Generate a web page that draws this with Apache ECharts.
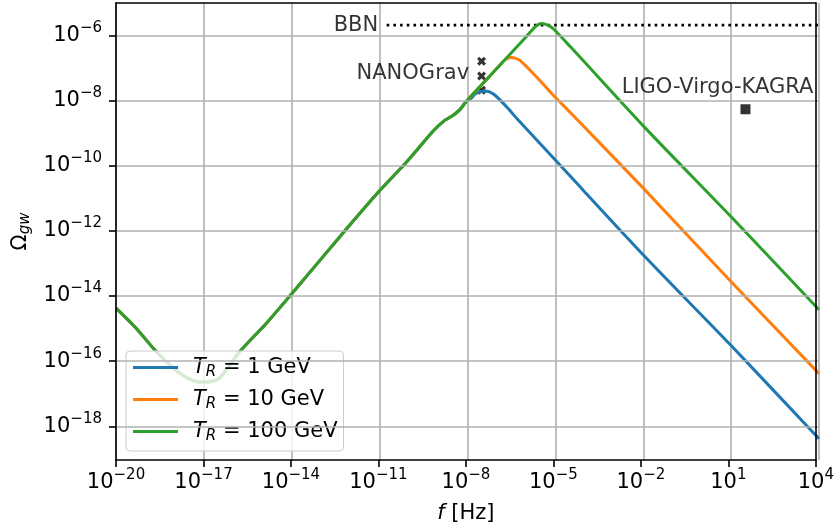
<!DOCTYPE html>
<html><head><meta charset="utf-8">
<script src="https://cdn.jsdelivr.net/npm/echarts@6/dist/echarts.min.js"></script>
<style>html,body{margin:0;padding:0;background:#fff}#c{width:837px;height:529px}</style>
</head><body><div id="c"></div>
<script>
const FONT = 'DejaVu Sans';
// All values are log10: x = log10(f / Hz), y = log10(Omega_gw)
const commonLogF     = [-20, -19.32, -18.63, -17.95, -17.55, -17.16, -16.80, -16.47, -15.79, -14.88, -14.00, -12.12, -11.04, -10.08, -9.17, -8.82, -8.50, -8.26, -8.03];
const commonLogOmega = [-14.37, -14.98, -15.70, -16.28, -16.52, -16.64, -16.63, -16.52, -15.72, -14.85, -13.93, -11.93, -10.81, -9.89, -8.94, -8.64, -8.46, -8.28, -8.02];

const tr1LogF     = [-7.86, -7.74, -7.55, -7.40, -7.25, -7.06, -6.66, -6.26, -5.01, -1.88, 1.0, 4.0];
const tr1LogOmega = [-7.92, -7.80, -7.73, -7.71, -7.74, -7.84, -8.20, -8.61, -9.82, -12.85, -15.52, -18.38];

const tr10LogF     = [-7.34, -6.95, -6.83, -6.70, -6.58, -6.49, -6.38, -6.21, -5.64, -5.07, -4.50, -2.0, 1.0, 4.0];
const tr10LogOmega = [-7.35, -6.97, -6.85, -6.74, -6.69, -6.68, -6.70, -6.77, -7.28, -7.84, -8.36, -10.69, -13.56, -16.38];

const tr100LogF     = [-7.34, -6.66, -5.98, -5.70, -5.56, -5.47, -5.35, -5.20, -5.07, -4.50, -2.0, 1.0, 4.0];
const tr100LogOmega = [-7.35, -6.69, -6.03, -5.75, -5.66, -5.64, -5.66, -5.72, -5.80, -6.34, -8.78, -11.57, -14.42];

const bbnLogF = [-10.76, 4.0];
const bbnLogOmega = [-5.69, -5.69];

const nanogravLogF = [-7.52, -7.52, -7.52];
const nanogravLogOmega = [-6.80, -7.25, -7.69];

const lvkLogF = [1.49];
const lvkLogOmega = [-8.27];

const seriesNames = ['1 GeV', '10 GeV', '100 GeV'];
const colors = ['#1f77b4', '#ff7f0e', '#2ca02c'];
const xTickExps = [-20, -17, -14, -11, -8, -5, -2, 1, 4];
const yTickExps = [-18, -16, -14, -12, -10, -8, -6];

const X_MIN = -20, X_MAX = 4, Y_MIN = -19.03, Y_MAX = -5.01;
const SHIFT = -X_MIN; // axis coordinate = log10 f + 20 so ticks start at 0

function pts(fs, os) { return fs.map((f, i) => [f + SHIFT, os[i]]); }
function sup(n) { return '{b|10}{s|' + (n < 0 ? '\u2212' + (-n) : String(n)) + '}'; }

const FS = 21, FSS = 15;
const tickRich = {
  b: { fontFamily: FONT, fontSize: FS, color: '#000', lineHeight: 26 },
  s: { fontFamily: FONT, fontSize: FSS, color: '#000', lineHeight: 26, padding: [0, 0, 15, 0] }
};

const chart = echarts.init(document.getElementById('c'), null, { renderer: 'canvas' });

const gridRect = { left: 116, right: 18, top: 3, bottom: 69 };
const borderLine = { show: true, onZero: false, lineStyle: { color: '#000', width: 1.6 } };
const gridLineStyle = { color: '#b0b0b0', width: 1.6 };

const curve = (i, fs, os) => ({
  type: 'line', name: 'T_R = ' + seriesNames[i], data: pts(commonLogF.concat(fs), commonLogOmega.concat(os)),
  showSymbol: false, smooth: 0.3,
  lineStyle: { color: colors[i], width: 3 }, itemStyle: { color: colors[i] }, z: 2
});

const option = {
  animation: false,
  backgroundColor: '#fff',
  grid: [Object.assign({}, gridRect), Object.assign({}, gridRect)],
  legend: {
    left: 126, top: 351, orient: 'vertical',
    data: seriesNames.map(n => 'T_R = ' + n),
    icon: 'rect', itemWidth: 45, itemHeight: 3, itemGap: 7,
    padding: [4, 6, 7, 7],
    backgroundColor: 'rgba(255,255,255,0.8)', borderColor: '#cccccc', borderWidth: 1, borderRadius: 4,
    formatter: name => '{i|T}{r|R}{t| = ' + name.replace('T_R = ', '') + '}',
    textStyle: {
      fontFamily: FONT, fontSize: FS, color: '#000',
      rich: {
        i: { fontFamily: FONT, fontSize: FS, fontStyle: 'italic', color: '#000', lineHeight: 24, padding: [0, 0, 0, 10] },
        r: { fontFamily: FONT, fontSize: FSS, fontStyle: 'italic', color: '#000', lineHeight: 24, padding: [10, 0, 0, 0] },
        t: { fontFamily: FONT, fontSize: FS, color: '#000', lineHeight: 24 }
      }
    }
  },
  xAxis: [
    { gridIndex: 0, type: 'value', min: 0, max: X_MAX + SHIFT, interval: 3,
      axisLine: { show: false }, axisTick: { show: false }, axisLabel: { show: false },
      splitLine: { show: true, lineStyle: gridLineStyle } },
    { gridIndex: 1, type: 'value', position: 'bottom', min: 0, max: X_MAX + SHIFT, interval: 3, z: 5,
      axisLine: borderLine,
      axisTick: { show: true, inside: false, length: 7, lineStyle: { color: '#000', width: 1.6 } },
      axisLabel: { show: true, margin: 10, color: '#000', formatter: v => sup(Math.round(v - SHIFT)), rich: tickRich },
      splitLine: { show: false },
      name: '{i|f}{t| [Hz]}', nameLocation: 'middle', nameGap: 43,
      nameTextStyle: { rich: {
        i: { fontFamily: FONT, fontSize: FS, fontStyle: 'italic', color: '#000' },
        t: { fontFamily: FONT, fontSize: FS, color: '#000' } } } },
    { gridIndex: 1, type: 'value', position: 'top', min: 0, max: X_MAX + SHIFT, z: 5,
      axisLine: borderLine, axisTick: { show: false }, axisLabel: { show: false }, splitLine: { show: false } }
  ],
  yAxis: [
    { gridIndex: 0, type: 'value', min: Y_MIN, max: Y_MAX,
      axisLine: { show: false }, axisTick: { show: false }, axisLabel: { show: false },
      splitLine: { show: false } },
    { gridIndex: 1, type: 'value', position: 'left', min: Y_MIN, max: Y_MAX, z: 5,
      axisLine: borderLine,
      axisTick: { show: true, inside: false, length: 7, customValues: yTickExps, lineStyle: { color: '#000', width: 1.6 } },
      axisLabel: { show: true, margin: 14, color: '#000', customValues: yTickExps, formatter: v => sup(Math.round(v)), rich: tickRich },
      splitLine: { show: false },
      name: '{o|\u03A9}{s|gw}', nameLocation: 'middle', nameGap: 81, nameRotate: 90,
      nameTextStyle: { rich: {
        o: { fontFamily: FONT, fontSize: FS, color: '#000' },
        s: { fontFamily: FONT, fontSize: FSS, fontStyle: 'italic', color: '#000', padding: [10, 0, 0, 0] } } } },
    { gridIndex: 1, type: 'value', position: 'right', min: Y_MIN, max: Y_MAX, z: 5,
      axisLine: borderLine, axisTick: { show: false }, axisLabel: { show: false }, splitLine: { show: false } }
  ],
  series: [
    { type: 'line', name: 'ygrid', data: [], z: 1, silent: true,
      markLine: { silent: true, symbol: ['none', 'none'], label: { show: false },
        lineStyle: { color: '#b0b0b0', width: 1.6, type: 'solid' }, emphasis: { disabled: true },
        data: yTickExps.map(v => ({ yAxis: v })) } },
    { type: 'line', name: 'BBN', data: pts(bbnLogF, bbnLogOmega), showSymbol: false,
      lineStyle: { color: '#000', width: 2.6, type: [2.6, 4.1], cap: 'butt' }, z: 2, silent: true },
    { type: 'scatter', name: 'BBN label', data: pts(bbnLogF.slice(0, 1), bbnLogOmega.slice(0, 1)),
      symbolSize: 1, itemStyle: { color: 'rgba(0,0,0,0)' },
      label: { show: true, position: 'left', distance: 8, formatter: 'BBN', fontFamily: FONT, fontSize: FS, color: '#000' } },
    { type: 'scatter', name: 'NANOGrav', data: pts(nanogravLogF, nanogravLogOmega),
      symbol: 'path://M2.5,0 L5,2.5 L7.5,0 L10,2.5 L7.5,5 L10,7.5 L7.5,10 L5,7.5 L2.5,10 L0,7.5 L2.5,5 L0,2.5 Z', symbolSize: 9,
      itemStyle: { color: '#000' }, z: 1,
      label: { show: true, position: 'left', distance: 8, offset: [0, -2], fontFamily: FONT, fontSize: FS, color: '#000',
        formatter: p => (p.dataIndex === 1 ? 'NANOGrav' : '') } },
    { type: 'scatter', name: 'LVK', data: pts(lvkLogF, lvkLogOmega), symbol: 'rect', symbolSize: 10,
      itemStyle: { color: '#000' }, z: 1,
      label: { show: true, position: 'top', distance: 6, offset: [-28, 0], formatter: 'LIGO-Virgo-KAGRA', fontFamily: FONT, fontSize: FS, color: '#000' } },
    curve(0, tr1LogF, tr1LogOmega),
    curve(1, tr10LogF, tr10LogOmega),
    curve(2, tr100LogF, tr100LogOmega)
  ]
};
chart.setOption(option);
</script></body></html>
